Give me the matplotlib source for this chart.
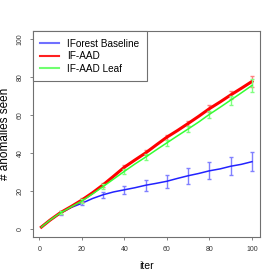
import matplotlib
matplotlib.use("Agg")
import matplotlib.pyplot as plt

plt.rcParams['font.family'] = ['Liberation Sans', 'DejaVu Sans']

# iterations and mean number of anomalies seen
iters = [1, 5, 10, 15, 20, 25, 30, 35, 40, 45, 50, 55, 60, 65, 70, 75, 80, 85, 90, 95, 100]
baseline = [1, 4.5, 8.3, 11.3, 13.5, 16.0, 18.0, 19.5, 20.6, 21.7, 23.0, 24.0, 25.1, 26.6, 28.0, 29.2, 30.6, 31.6, 33.0, 34.0, 35.4]
aad = [1, 4.6, 8.6, 11.8, 15.2, 19.0, 23.2, 27.8, 32.5, 36.3, 40.0, 44.2, 48.3, 51.8, 55.5, 59.3, 63.3, 66.8, 70.5, 74.0, 77.6]
aad_leaf = [1, 4.6, 8.5, 11.6, 14.7, 18.4, 22.3, 26.3, 30.3, 34.2, 37.8, 41.6, 45.3, 49.0, 52.6, 56.3, 60.3, 64.0, 67.8, 71.6, 75.5]

# error bars (every 10 iterations)
err_iters = [10, 20, 30, 40, 50, 60, 70, 80, 90, 100]
baseline_err = [0.9, 1.0, 1.5, 2.2, 2.9, 3.5, 4.3, 4.5, 4.8, 5.1]
aad_err = [0.7, 0.9, 1.0, 1.2, 1.3, 1.3, 1.5, 1.7, 2.0, 2.7]
aad_leaf_err = [0.8, 1.0, 1.1, 1.4, 1.5, 1.6, 1.8, 2.0, 2.4, 3.3]

labels = ['IForest Baseline', 'IF-AAD', 'IF-AAD Leaf']

series = [
    (baseline, baseline_err, '#2222FF', '#8080FF', 1.1),
    (aad, aad_err, '#FF0000', '#FF8080', 2.2),
    (aad_leaf, aad_leaf_err, '#33FF33', '#80FF80', 1.1),
]

fig = plt.figure(figsize=(2.77, 2.77), dpi=100)
ax = fig.add_axes([0.119, 0.146, 0.821, 0.741])

grey = '#707070'
for (y, err, col, ecol, lw), lab in zip(series, labels):
    ey = [y[iters.index(x)] for x in err_iters]
    ax.errorbar(err_iters, ey, yerr=err, fmt='none', ecolor=ecol,
                elinewidth=1.0, capsize=1.6, capthick=1.0)
    ax.plot(iters, y, color=col, lw=lw, label=lab)

ax.set_xlim(-2.96, 103.96)
ax.set_ylim(-4, 104)
ax.set_xticks([0, 20, 40, 60, 80, 100])
ax.set_yticks([0, 20, 40, 60, 80, 100])
ax.tick_params(labelsize=5, length=2.5, width=0.6, color=grey, labelcolor='#333333', pad=4)
for lbl in ax.get_yticklabels():
    lbl.set_rotation(90)
    lbl.set_va('center')
for sp in ax.spines.values():
    sp.set_color(grey)
    sp.set_linewidth(0.8)

ax.set_xlabel('iter', fontsize=7.5, labelpad=6)
ax.set_ylabel('# anomalies seen', fontsize=8.5, labelpad=4)

leg = ax.legend(loc='upper left', bbox_to_anchor=(0, 1), borderaxespad=0,
                fontsize=7.2, fancybox=False, framealpha=1, edgecolor=grey,
                handlelength=1.9, handletextpad=0.8, labelspacing=0.25,
                borderpad=0.75)
leg.get_frame().set_linewidth(0.8)
for h, c in zip(leg.get_lines(), ['#7070FF', '#FF2020', '#70FF70']):
    h.set_color(c)
    h.set_linewidth(1.5)

fig.savefig('out.png', dpi=100)
